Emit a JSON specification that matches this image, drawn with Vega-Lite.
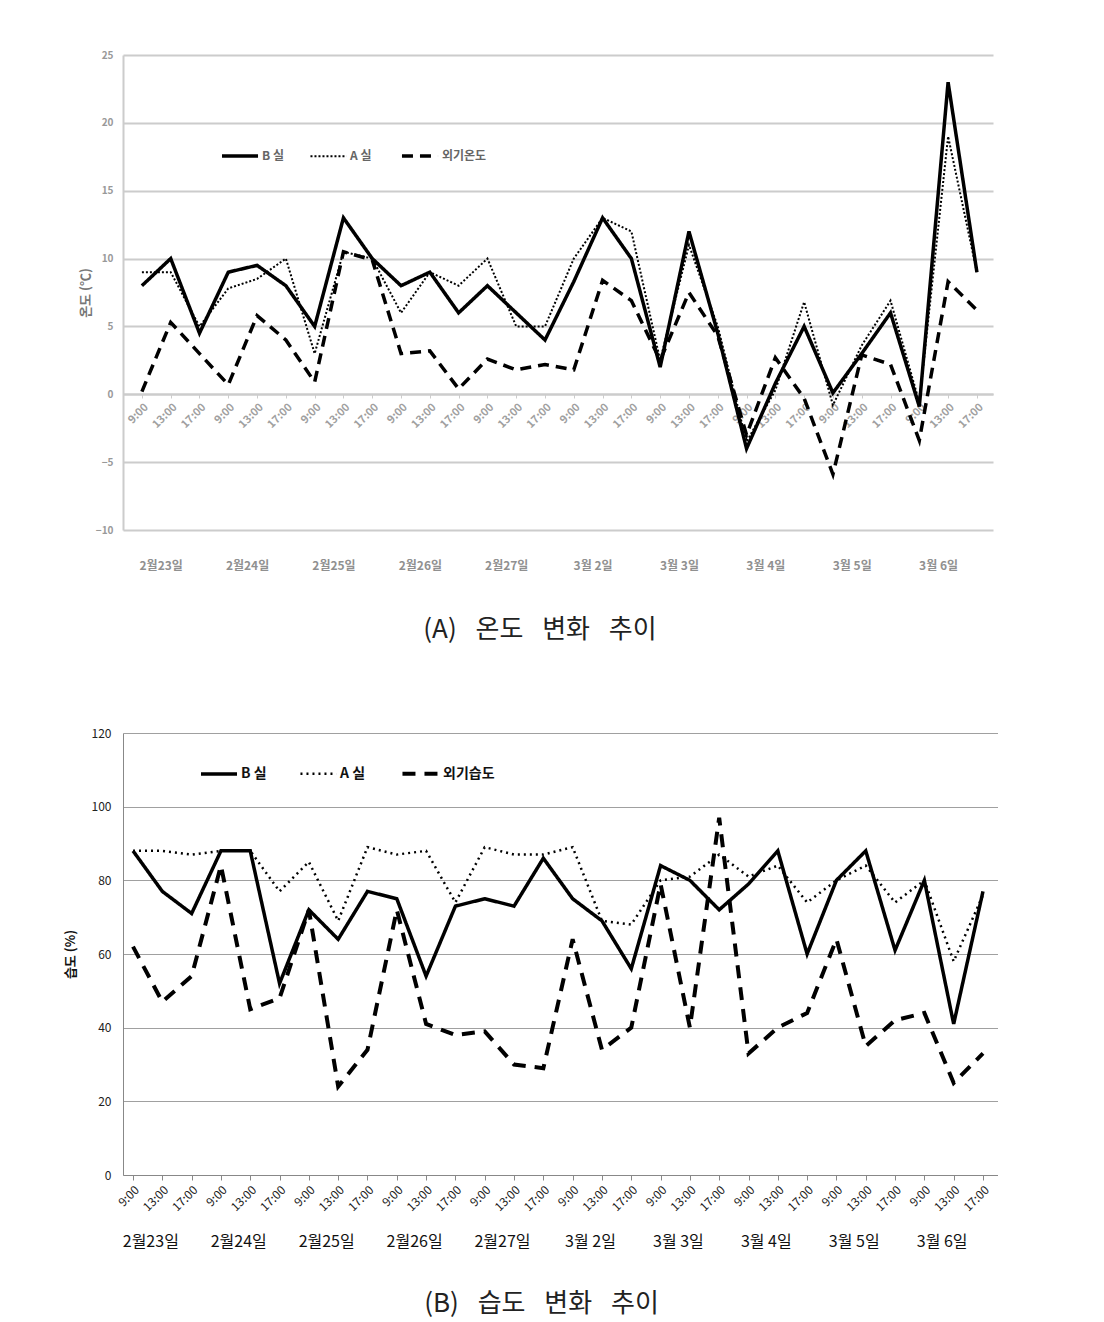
{
  "$schema": "https://vega.github.io/schema/vega-lite/v6.json",
  "background": "white",
  "padding": {"left": 64, "top": 50, "right": 0, "bottom": 10},
  "config": {"view": {"stroke": null}, "font": "Noto Sans CJK KR", "concat": {"spacing": 84}},
  "resolve": {"scale": {"strokeDash": "independent", "strokeWidth": "independent"}, "legend": {"strokeDash": "independent", "strokeWidth": "independent"}},
  "datasets": {
    "temp": [
      {"s":"B 실","t":"2월23일|9:00","v":8},{"s":"B 실","t":"2월23일|13:00","v":10},{"s":"B 실","t":"2월23일|17:00","v":4.5},
      {"s":"B 실","t":"2월24일|9:00","v":9},{"s":"B 실","t":"2월24일|13:00","v":9.5},{"s":"B 실","t":"2월24일|17:00","v":8},
      {"s":"B 실","t":"2월25일|9:00","v":5},{"s":"B 실","t":"2월25일|13:00","v":13},{"s":"B 실","t":"2월25일|17:00","v":10},
      {"s":"B 실","t":"2월26일|9:00","v":8},{"s":"B 실","t":"2월26일|13:00","v":9},{"s":"B 실","t":"2월26일|17:00","v":6},
      {"s":"B 실","t":"2월27일|9:00","v":8},{"s":"B 실","t":"2월27일|13:00","v":6},{"s":"B 실","t":"2월27일|17:00","v":4},
      {"s":"B 실","t":"3월 2일|9:00","v":8.3},{"s":"B 실","t":"3월 2일|13:00","v":13},{"s":"B 실","t":"3월 2일|17:00","v":10},
      {"s":"B 실","t":"3월 3일|9:00","v":2},{"s":"B 실","t":"3월 3일|13:00","v":12},{"s":"B 실","t":"3월 3일|17:00","v":4.5},
      {"s":"B 실","t":"3월 4일|9:00","v":-4},{"s":"B 실","t":"3월 4일|13:00","v":0.8},{"s":"B 실","t":"3월 4일|17:00","v":5},
      {"s":"B 실","t":"3월 5일|9:00","v":0.1},{"s":"B 실","t":"3월 5일|13:00","v":3},{"s":"B 실","t":"3월 5일|17:00","v":6},
      {"s":"B 실","t":"3월 6일|9:00","v":-0.9},{"s":"B 실","t":"3월 6일|13:00","v":23},{"s":"B 실","t":"3월 6일|17:00","v":9},
      {"s":"A 실","t":"2월23일|9:00","v":9},{"s":"A 실","t":"2월23일|13:00","v":9},{"s":"A 실","t":"2월23일|17:00","v":5},
      {"s":"A 실","t":"2월24일|9:00","v":7.8},{"s":"A 실","t":"2월24일|13:00","v":8.5},{"s":"A 실","t":"2월24일|17:00","v":10},
      {"s":"A 실","t":"2월25일|9:00","v":3},{"s":"A 실","t":"2월25일|13:00","v":10.5},{"s":"A 실","t":"2월25일|17:00","v":10},
      {"s":"A 실","t":"2월26일|9:00","v":6},{"s":"A 실","t":"2월26일|13:00","v":9},{"s":"A 실","t":"2월26일|17:00","v":8},
      {"s":"A 실","t":"2월27일|9:00","v":10},{"s":"A 실","t":"2월27일|13:00","v":5},{"s":"A 실","t":"2월27일|17:00","v":5},
      {"s":"A 실","t":"3월 2일|9:00","v":10},{"s":"A 실","t":"3월 2일|13:00","v":13},{"s":"A 실","t":"3월 2일|17:00","v":12},
      {"s":"A 실","t":"3월 3일|9:00","v":2.5},{"s":"A 실","t":"3월 3일|13:00","v":11},{"s":"A 실","t":"3월 3일|17:00","v":5},
      {"s":"A 실","t":"3월 4일|9:00","v":-3.5},{"s":"A 실","t":"3월 4일|13:00","v":0.3},{"s":"A 실","t":"3월 4일|17:00","v":6.8},
      {"s":"A 실","t":"3월 5일|9:00","v":-0.8},{"s":"A 실","t":"3월 5일|13:00","v":3.6},{"s":"A 실","t":"3월 5일|17:00","v":6.9},
      {"s":"A 실","t":"3월 6일|9:00","v":-0.6},{"s":"A 실","t":"3월 6일|13:00","v":19},{"s":"A 실","t":"3월 6일|17:00","v":9},
      {"s":"외기온도","t":"2월23일|9:00","v":0.2},{"s":"외기온도","t":"2월23일|13:00","v":5.3},{"s":"외기온도","t":"2월23일|17:00","v":3},
      {"s":"외기온도","t":"2월24일|9:00","v":0.7},{"s":"외기온도","t":"2월24일|13:00","v":5.8},{"s":"외기온도","t":"2월24일|17:00","v":4},
      {"s":"외기온도","t":"2월25일|9:00","v":0.9},{"s":"외기온도","t":"2월25일|13:00","v":10.5},{"s":"외기온도","t":"2월25일|17:00","v":9.9},
      {"s":"외기온도","t":"2월26일|9:00","v":3},{"s":"외기온도","t":"2월26일|13:00","v":3.2},{"s":"외기온도","t":"2월26일|17:00","v":0.4},
      {"s":"외기온도","t":"2월27일|9:00","v":2.6},{"s":"외기온도","t":"2월27일|13:00","v":1.8},{"s":"외기온도","t":"2월27일|17:00","v":2.2},
      {"s":"외기온도","t":"3월 2일|9:00","v":1.8},{"s":"외기온도","t":"3월 2일|13:00","v":8.4},{"s":"외기온도","t":"3월 2일|17:00","v":6.9},
      {"s":"외기온도","t":"3월 3일|9:00","v":2.5},{"s":"외기온도","t":"3월 3일|13:00","v":7.5},{"s":"외기온도","t":"3월 3일|17:00","v":4.3},
      {"s":"외기온도","t":"3월 4일|9:00","v":-3},{"s":"외기온도","t":"3월 4일|13:00","v":2.7},{"s":"외기온도","t":"3월 4일|17:00","v":-0.3},
      {"s":"외기온도","t":"3월 5일|9:00","v":-5.9},{"s":"외기온도","t":"3월 5일|13:00","v":2.9},{"s":"외기온도","t":"3월 5일|17:00","v":2.2},
      {"s":"외기온도","t":"3월 6일|9:00","v":-3.4},{"s":"외기온도","t":"3월 6일|13:00","v":8.3},{"s":"외기온도","t":"3월 6일|17:00","v":6.2}
    ],
    "hum": [
      {"s":"B 실","t":"2월23일|9:00","v":88},{"s":"B 실","t":"2월23일|13:00","v":77},{"s":"B 실","t":"2월23일|17:00","v":71},
      {"s":"B 실","t":"2월24일|9:00","v":88},{"s":"B 실","t":"2월24일|13:00","v":88},{"s":"B 실","t":"2월24일|17:00","v":52},
      {"s":"B 실","t":"2월25일|9:00","v":72},{"s":"B 실","t":"2월25일|13:00","v":64},{"s":"B 실","t":"2월25일|17:00","v":77},
      {"s":"B 실","t":"2월26일|9:00","v":75},{"s":"B 실","t":"2월26일|13:00","v":54},{"s":"B 실","t":"2월26일|17:00","v":73},
      {"s":"B 실","t":"2월27일|9:00","v":75},{"s":"B 실","t":"2월27일|13:00","v":73},{"s":"B 실","t":"2월27일|17:00","v":86},
      {"s":"B 실","t":"3월 2일|9:00","v":75},{"s":"B 실","t":"3월 2일|13:00","v":69},{"s":"B 실","t":"3월 2일|17:00","v":56},
      {"s":"B 실","t":"3월 3일|9:00","v":84},{"s":"B 실","t":"3월 3일|13:00","v":80},{"s":"B 실","t":"3월 3일|17:00","v":72},
      {"s":"B 실","t":"3월 4일|9:00","v":79},{"s":"B 실","t":"3월 4일|13:00","v":88},{"s":"B 실","t":"3월 4일|17:00","v":60},
      {"s":"B 실","t":"3월 5일|9:00","v":80},{"s":"B 실","t":"3월 5일|13:00","v":88},{"s":"B 실","t":"3월 5일|17:00","v":61},
      {"s":"B 실","t":"3월 6일|9:00","v":80},{"s":"B 실","t":"3월 6일|13:00","v":41},{"s":"B 실","t":"3월 6일|17:00","v":77},
      {"s":"A 실","t":"2월23일|9:00","v":88},{"s":"A 실","t":"2월23일|13:00","v":88},{"s":"A 실","t":"2월23일|17:00","v":87},
      {"s":"A 실","t":"2월24일|9:00","v":88},{"s":"A 실","t":"2월24일|13:00","v":88},{"s":"A 실","t":"2월24일|17:00","v":77},
      {"s":"A 실","t":"2월25일|9:00","v":85},{"s":"A 실","t":"2월25일|13:00","v":69},{"s":"A 실","t":"2월25일|17:00","v":89},
      {"s":"A 실","t":"2월26일|9:00","v":87},{"s":"A 실","t":"2월26일|13:00","v":88},{"s":"A 실","t":"2월26일|17:00","v":74},
      {"s":"A 실","t":"2월27일|9:00","v":89},{"s":"A 실","t":"2월27일|13:00","v":87},{"s":"A 실","t":"2월27일|17:00","v":87},
      {"s":"A 실","t":"3월 2일|9:00","v":89},{"s":"A 실","t":"3월 2일|13:00","v":69},{"s":"A 실","t":"3월 2일|17:00","v":68},
      {"s":"A 실","t":"3월 3일|9:00","v":80},{"s":"A 실","t":"3월 3일|13:00","v":81},{"s":"A 실","t":"3월 3일|17:00","v":87},
      {"s":"A 실","t":"3월 4일|9:00","v":81},{"s":"A 실","t":"3월 4일|13:00","v":84},{"s":"A 실","t":"3월 4일|17:00","v":74},
      {"s":"A 실","t":"3월 5일|9:00","v":80},{"s":"A 실","t":"3월 5일|13:00","v":84},{"s":"A 실","t":"3월 5일|17:00","v":74},
      {"s":"A 실","t":"3월 6일|9:00","v":80},{"s":"A 실","t":"3월 6일|13:00","v":58},{"s":"A 실","t":"3월 6일|17:00","v":76},
      {"s":"외기습도","t":"2월23일|9:00","v":62},{"s":"외기습도","t":"2월23일|13:00","v":47},{"s":"외기습도","t":"2월23일|17:00","v":54},
      {"s":"외기습도","t":"2월24일|9:00","v":84},{"s":"외기습도","t":"2월24일|13:00","v":45},{"s":"외기습도","t":"2월24일|17:00","v":48},
      {"s":"외기습도","t":"2월25일|9:00","v":72},{"s":"외기습도","t":"2월25일|13:00","v":24},{"s":"외기습도","t":"2월25일|17:00","v":34},
      {"s":"외기습도","t":"2월26일|9:00","v":72},{"s":"외기습도","t":"2월26일|13:00","v":41},{"s":"외기습도","t":"2월26일|17:00","v":38},
      {"s":"외기습도","t":"2월27일|9:00","v":39},{"s":"외기습도","t":"2월27일|13:00","v":30},{"s":"외기습도","t":"2월27일|17:00","v":29},
      {"s":"외기습도","t":"3월 2일|9:00","v":64},{"s":"외기습도","t":"3월 2일|13:00","v":34},{"s":"외기습도","t":"3월 2일|17:00","v":40},
      {"s":"외기습도","t":"3월 3일|9:00","v":79},{"s":"외기습도","t":"3월 3일|13:00","v":40},{"s":"외기습도","t":"3월 3일|17:00","v":97},
      {"s":"외기습도","t":"3월 4일|9:00","v":33},{"s":"외기습도","t":"3월 4일|13:00","v":40},{"s":"외기습도","t":"3월 4일|17:00","v":44},
      {"s":"외기습도","t":"3월 5일|9:00","v":64},{"s":"외기습도","t":"3월 5일|13:00","v":35},{"s":"외기습도","t":"3월 5일|17:00","v":42},
      {"s":"외기습도","t":"3월 6일|9:00","v":44},{"s":"외기습도","t":"3월 6일|13:00","v":25},{"s":"외기습도","t":"3월 6일|17:00","v":33}
    ]
  },
  "vconcat": [
    {
      "width": 870,
      "height": 475,
      "data": {"name": "temp"},
      "title": {"text": "(A)\u2002 온도\u2002 변화\u2002 추이", "orient": "bottom", "anchor": "middle", "fontSize": 26, "fontWeight": "normal", "color": "#222222", "offset": 46, "dx": -18},
      "encoding": {
        "y": {"field": "v", "type": "quantitative", "scale": {"domain": [-10, 25], "nice": false, "zero": false},
          "axis": {"values": [-10, -5, 0, 5, 10, 15, 20, 25], "title": "온도 (℃)", "titleFontSize": 13, "titleColor": "#777777", "titleFontWeight": "bold", "titlePadding": 3,
            "labelFontSize": 10, "labelColor": "#999999", "labelFontWeight": "bold", "labelPadding": 10, "ticks": false,
            "grid": true, "gridColor": "#cccccc", "gridWidth": 2, "domainColor": "#cccccc", "domainWidth": 2}},
        "strokeDash": {"field": "s", "type": "nominal", "scale": {"domain": ["B 실", "A 실", "외기온도"], "range": [[1, 0], [2, 2], [11, 7]]},
          "legend": {"title": null, "orient": "none", "legendX": 97, "legendY": 81, "direction": "horizontal", "symbolType": "stroke", "symbolSize": 1300, "symbolStrokeColor": "#000000",
            "labelFontSize": 12, "labelFontWeight": "bold", "labelColor": "#666666", "labelOffset": 2, "columnPadding": 22}},
        "strokeWidth": {"field": "s", "type": "nominal", "scale": {"type": "ordinal", "domain": ["B 실", "A 실", "외기온도"], "range": [3.5, 2, 3.5]},
          "legend": {"title": null, "orient": "none", "legendX": 97, "legendY": 81, "direction": "horizontal", "symbolType": "stroke", "symbolSize": 1300, "symbolStrokeColor": "#000000",
            "labelFontSize": 12, "labelFontWeight": "bold", "labelColor": "#666666", "labelOffset": 2, "columnPadding": 22}}
      },
      "layer": [
        {
          "transform": [{"filter": "datum.s !== '외기온도'"}],
          "mark": {"type": "line", "color": "#000000", "strokeCap": "butt", "strokeJoin": "miter"},
          "encoding": {
            "x": {"field": "t", "type": "ordinal",
              "scale": {"type": "point", "padding": 0.608, "align": 0.54, "domain": ["2월23일|9:00","2월23일|13:00","2월23일|17:00","2월24일|9:00","2월24일|13:00","2월24일|17:00","2월25일|9:00","2월25일|13:00","2월25일|17:00","2월26일|9:00","2월26일|13:00","2월26일|17:00","2월27일|9:00","2월27일|13:00","2월27일|17:00","3월 2일|9:00","3월 2일|13:00","3월 2일|17:00","3월 3일|9:00","3월 3일|13:00","3월 3일|17:00","3월 4일|9:00","3월 4일|13:00","3월 4일|17:00","3월 5일|9:00","3월 5일|13:00","3월 5일|17:00","3월 6일|9:00","3월 6일|13:00","3월 6일|17:00"]},
              "axis": {"orient": "bottom", "offset": -136, "title": null, "labelExpr": "split(datum.value, '|')[1]", "labelAngle": -45, "labelFontSize": 11, "labelColor": "#a0a0a0", "labelFontWeight": "bold",
                "domainColor": "#cccccc", "domainWidth": 2, "tickColor": "#cccccc", "tickSize": 4, "labelPadding": 3, "grid": false}}
          }
        },
        {
          "transform": [{"filter": "datum.s === '외기온도'"}],
          "mark": {"type": "line", "color": "#000000", "strokeCap": "butt", "strokeJoin": "miter"},
          "encoding": {
            "x": {"field": "t", "type": "ordinal",
              "axis": {"orient": "bottom", "title": null, "values": ["2월23일|13:00","2월24일|13:00","2월25일|13:00","2월26일|13:00","2월27일|13:00","3월 2일|13:00","3월 3일|13:00","3월 4일|13:00","3월 5일|13:00","3월 6일|13:00"],
                "labelExpr": "split(datum.value, '|')[0]", "labelAngle": 0, "ticks": false, "domain": false, "grid": false, "labelFontSize": 12, "labelFontWeight": "bold", "labelColor": "#909090", "labelPadding": 30, "labelOffset": -10}}
          }
        }
      ],
      "resolve": {"axis": {"x": "independent"}}
    },
    {
      "width": 875,
      "height": 442,
      "data": {"name": "hum"},
      "title": {"text": "(B)\u2002 습도\u2002 변화\u2002 추이", "orient": "bottom", "anchor": "middle", "fontSize": 26, "fontWeight": "normal", "color": "#222222", "offset": 42, "dx": -19},
      "encoding": {
        "y": {"field": "v", "type": "quantitative", "scale": {"domain": [0, 120], "nice": false},
          "axis": {"values": [0, 20, 40, 60, 80, 100, 120], "title": "습도 (%)", "titleFontSize": 13, "titleColor": "#111111", "titleFontWeight": "bold", "titlePadding": 14,
            "labelFontSize": 12, "labelColor": "#222222", "labelPadding": 12, "ticks": false,
            "grid": true, "gridColor": "#a0a0a0", "gridWidth": 1, "domainColor": "#888888", "domainWidth": 1}},
        "strokeDash": {"field": "s", "type": "nominal", "scale": {"domain": ["B 실", "A 실", "외기습도"], "range": [[1, 0], [2, 4], [13, 9]]},
          "legend": {"title": null, "orient": "none", "legendX": 76, "legendY": 20, "direction": "horizontal", "symbolType": "stroke", "symbolSize": 1300, "symbolStrokeColor": "#000000",
            "labelFontSize": 14, "labelFontWeight": "bold", "labelColor": "#111111", "labelOffset": 2, "columnPadding": 28}},
        "strokeWidth": {"field": "s", "type": "nominal", "scale": {"type": "ordinal", "domain": ["B 실", "A 실", "외기습도"], "range": [3.5, 2.5, 4]},
          "legend": {"title": null, "orient": "none", "legendX": 76, "legendY": 20, "direction": "horizontal", "symbolType": "stroke", "symbolSize": 1300, "symbolStrokeColor": "#000000",
            "labelFontSize": 14, "labelFontWeight": "bold", "labelColor": "#111111", "labelOffset": 2, "columnPadding": 28}}
      },
      "layer": [
        {
          "transform": [{"filter": "datum.s !== '외기습도'"}],
          "mark": {"type": "line", "color": "#000000", "strokeCap": "butt", "strokeJoin": "miter"},
          "encoding": {
            "x": {"field": "t", "type": "ordinal",
              "scale": {"type": "point", "padding": 0.427, "align": 0.4, "domain": ["2월23일|9:00","2월23일|13:00","2월23일|17:00","2월24일|9:00","2월24일|13:00","2월24일|17:00","2월25일|9:00","2월25일|13:00","2월25일|17:00","2월26일|9:00","2월26일|13:00","2월26일|17:00","2월27일|9:00","2월27일|13:00","2월27일|17:00","3월 2일|9:00","3월 2일|13:00","3월 2일|17:00","3월 3일|9:00","3월 3일|13:00","3월 3일|17:00","3월 4일|9:00","3월 4일|13:00","3월 4일|17:00","3월 5일|9:00","3월 5일|13:00","3월 5일|17:00","3월 6일|9:00","3월 6일|13:00","3월 6일|17:00"]},
              "axis": {"orient": "bottom", "title": null, "labelExpr": "split(datum.value, '|')[1]", "labelAngle": -45, "labelFontSize": 12, "labelColor": "#222222",
                "domainColor": "#888888", "domainWidth": 1, "tickColor": "#888888", "tickSize": 5, "labelPadding": 4, "grid": false}}
          }
        },
        {
          "transform": [{"filter": "datum.s === '외기습도'"}],
          "mark": {"type": "line", "color": "#000000", "strokeCap": "butt", "strokeJoin": "miter"},
          "encoding": {
            "x": {"field": "t", "type": "ordinal",
              "axis": {"orient": "bottom", "title": null, "values": ["2월23일|13:00","2월24일|13:00","2월25일|13:00","2월26일|13:00","2월27일|13:00","3월 2일|13:00","3월 3일|13:00","3월 4일|13:00","3월 5일|13:00","3월 6일|13:00"],
                "labelExpr": "split(datum.value, '|')[0]", "labelAngle": 0, "ticks": false, "domain": false, "grid": false, "labelFontSize": 16, "labelColor": "#111111", "labelPadding": 58, "labelOffset": -12}}
          }
        }
      ],
      "resolve": {"axis": {"x": "independent"}}
    }
  ]
}
